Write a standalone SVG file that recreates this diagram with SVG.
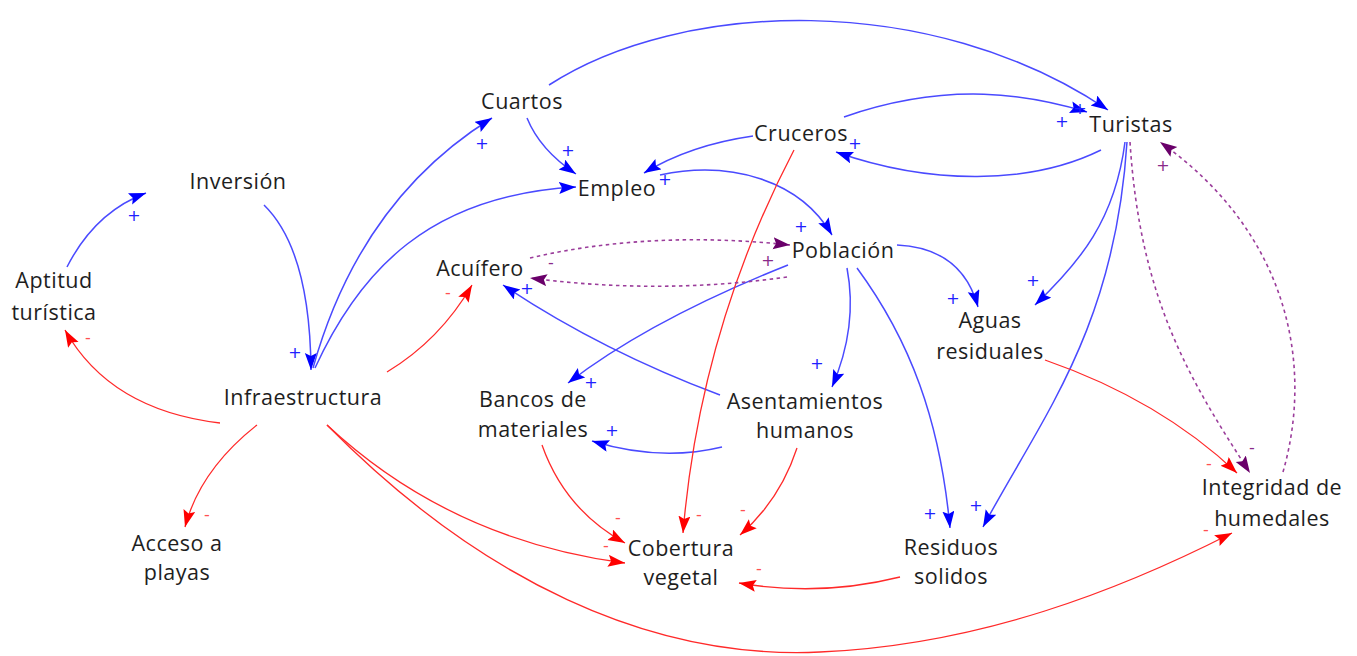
<svg xmlns="http://www.w3.org/2000/svg" width="1357" height="656" viewBox="0 0 1357 656">
<style>
.lbl{font-family:"Open Sans","DejaVu Sans",sans-serif;font-size:21.5px;letter-spacing:0.5px;fill:#1e1e1e;text-anchor:middle}
.b{fill:none;stroke:#4a4aff;stroke-width:1.5}
.r{fill:none;stroke:#ff2a2a;stroke-width:1.3}
.p{fill:none;stroke:#9b3d9b;stroke-width:1.6;stroke-dasharray:3.5,3.5}
.bm{marker-end:url(#ab)}
.rm{marker-end:url(#ar)}
.pm{marker-end:url(#ap)}
.pol{font-family:"DejaVu Sans",sans-serif;font-size:16px;text-anchor:middle}
.pb{fill:#2020ff}
.pr{fill:#ff5050}
.pp{fill:#8a2a8a}
</style>
<defs>
<marker id="ab" markerUnits="userSpaceOnUse" markerWidth="18" markerHeight="13" refX="17" refY="6" orient="auto"><path d="M0,0 L17,6 L0,12 L3,6 z" fill="#0000ff"/></marker>
<marker id="ar" markerUnits="userSpaceOnUse" markerWidth="18" markerHeight="13" refX="17" refY="6" orient="auto"><path d="M0,0 L17,6 L0,12 L3,6 z" fill="#ff0000"/></marker>
<marker id="ap" markerUnits="userSpaceOnUse" markerWidth="18" markerHeight="13" refX="17" refY="6" orient="auto"><path d="M0,0 L17,6 L0,12 L3,6 z" fill="#6a006a"/></marker>
</defs>
<rect width="1357" height="656" fill="#ffffff"/>
<g id="connectors">
<path class="b bm" d="M67,267 Q95,212 146,193"/>
<path class="b bm" d="M264,205 Q310,250 311,370"/>
<path class="b bm" d="M313,368 Q360,200 492,118"/>
<path class="b bm" d="M315,368 C360,270 430,195 576,187"/>
<path class="b bm" d="M527,118 Q540,150 576,174"/>
<path class="b bm" d="M549,85 C680,0 930,-10 1108,110"/>
<path class="b bm" d="M844,117 C950,80 1030,95 1087,112"/>
<path class="b bm" d="M1101,150 C1030,185 930,185 836,152"/>
<path class="b bm" d="M753,136 Q690,145 644,173"/>
<path class="b bm" d="M660,175 C730,160 800,180 832,235"/>
<path class="b bm" d="M720,395 Q600,350 503,285"/>
<path class="b bm" d="M788,265 Q650,320 568,383"/>
<path class="b bm" d="M847,268 C855,310 848,350 832,387"/>
<path class="b bm" d="M857,268 C910,340 940,420 950,528"/>
<path class="b bm" d="M897,245 Q962,248 978,307"/>
<path class="b bm" d="M1125,142 C1115,220 1080,262 1035,305"/>
<path class="b bm" d="M1127,142 C1115,330 1040,420 983,527"/>
<path class="b bm" d="M722,447 Q660,462 592,441"/>
<path class="r rm" d="M794,150 Q700,330 683,533"/>
<path class="r rm" d="M1045,360 Q1160,400 1237,473"/>
<path class="r rm" d="M327,425 C480,580 650,660 820,652 C980,645 1120,590 1232,533"/>
<path class="r rm" d="M327,425 Q450,540 625,563"/>
<path class="r rm" d="M542,445 Q565,510 625,543"/>
<path class="r rm" d="M797,448 Q780,500 740,535"/>
<path class="r rm" d="M900,577 Q820,597 739,583"/>
<path class="r rm" d="M387,372 Q440,340 472,285"/>
<path class="r rm" d="M220,423 Q110,410 65,330"/>
<path class="r rm" d="M257,425 Q200,470 185,527"/>
<path class="p pm" d="M787,277 Q660,295 530,278"/>
<path class="p pm" d="M530,258 Q650,230 790,245"/>
<path class="p pm" d="M1130,142 C1140,300 1190,380 1250,473"/>
<path class="p pm" d="M1283,472 C1315,360 1285,230 1160,142"/>
<text class="pol pb" x="134" y="221">+</text>
<text class="pol pb" x="295" y="358">+</text>
<text class="pol pb" x="482" y="149">+</text>
<text class="pol pb" x="568" y="156">+</text>
<text class="pol pb" x="665" y="185">+</text>
<text class="pol pb" x="855" y="149">+</text>
<text class="pol pb" x="1062" y="127">+</text>
<text class="pol pb" x="1080" y="114">+</text>
<text class="pol pb" x="801" y="232">+</text>
<text class="pol pb" x="527" y="294">+</text>
<text class="pol pb" x="591" y="388">+</text>
<text class="pol pb" x="612" y="436">+</text>
<text class="pol pb" x="817" y="369">+</text>
<text class="pol pb" x="953" y="304">+</text>
<text class="pol pb" x="1033" y="286">+</text>
<text class="pol pb" x="930" y="519">+</text>
<text class="pol pb" x="976" y="511">+</text>
<text class="pol pp" x="768" y="266">+</text>
<text class="pol pp" x="1163" y="171">+</text>
<text class="pol pp" x="551" y="268">-</text>
<text class="pol pp" x="1252" y="453">-</text>
<text class="pol pr" x="88" y="343">-</text>
<text class="pol pr" x="448" y="298">-</text>
<text class="pol pr" x="207" y="520">-</text>
<text class="pol pr" x="618" y="523">-</text>
<text class="pol pr" x="606" y="551">-</text>
<text class="pol pr" x="699" y="520">-</text>
<text class="pol pr" x="743" y="515">-</text>
<text class="pol pr" x="759" y="574">-</text>
<text class="pol pr" x="1209" y="469">-</text>
<text class="pol pr" x="1206" y="535">-</text>
</g>
<g id="inversion"><text class="lbl" x="238" y="189">Inversión</text></g>
<g id="aptitud"><text class="lbl" x="54" y="288">Aptitud</text><text class="lbl" x="54" y="320">turística</text></g>
<g id="infraestructura"><text class="lbl" x="303" y="405">Infraestructura</text></g>
<g id="acceso"><text class="lbl" x="177" y="551">Acceso a</text><text class="lbl" x="177" y="580">playas</text></g>
<g id="cuartos"><text class="lbl" x="522" y="109">Cuartos</text></g>
<g id="empleo"><text class="lbl" x="617" y="196">Empleo</text></g>
<g id="cruceros"><text class="lbl" x="801" y="141">Cruceros</text></g>
<g id="turistas"><text class="lbl" x="1131" y="132">Turistas</text></g>
<g id="poblacion"><text class="lbl" x="843" y="258">Población</text></g>
<g id="acuifero"><text class="lbl" x="480" y="276">Acuífero</text></g>
<g id="aguas"><text class="lbl" x="990" y="328">Aguas</text><text class="lbl" x="990" y="359">residuales</text></g>
<g id="bancos"><text class="lbl" x="533" y="407">Bancos de</text><text class="lbl" x="533" y="437">materiales</text></g>
<g id="asentamientos"><text class="lbl" x="805" y="409">Asentamientos</text><text class="lbl" x="805" y="438">humanos</text></g>
<g id="cobertura"><text class="lbl" x="681" y="556">Cobertura</text><text class="lbl" x="681" y="585">vegetal</text></g>
<g id="residuos"><text class="lbl" x="951" y="555">Residuos</text><text class="lbl" x="951" y="584">solidos</text></g>
<g id="integridad"><text class="lbl" x="1272" y="495">Integridad de</text><text class="lbl" x="1272" y="526">humedales</text></g>
</svg>
